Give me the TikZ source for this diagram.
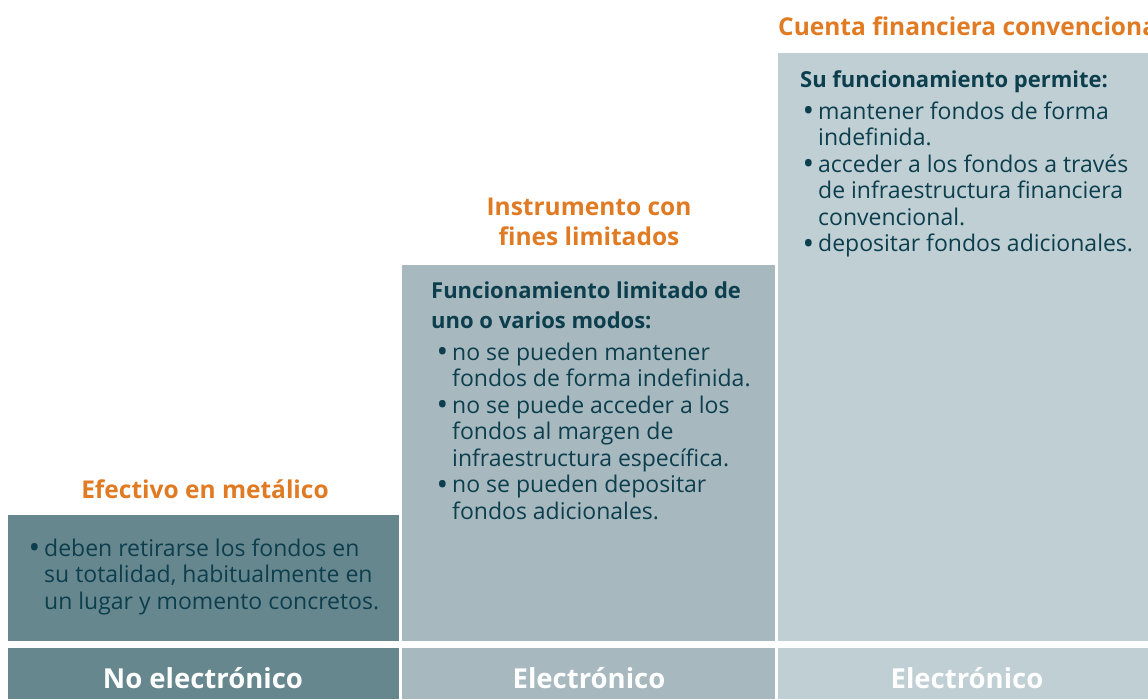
\documentclass[tikz,border=0pt]{standalone}
\usepackage{fontspec}
\setmainfont{Open Sans}
\definecolor{cone}{HTML}{67878F}
\definecolor{ctwo}{HTML}{A7B9BF}
\definecolor{cthree}{HTML}{BFCFD4}
\definecolor{corange}{HTML}{E07B24}
\definecolor{cdark}{HTML}{0C3E4E}
\newcommand{\bul}{\makebox[13pt][l]{\hspace*{-2.5pt}\raisebox{-2.5pt}{\fontsize{31}{0}\selectfont\textbullet}}}
\newcommand{\cont}{\hspace*{13pt}}
\newcommand{\hd}[1]{{\fontsize{22}{26.5}\selectfont\bfseries #1}}
\tikzset{
  title/.style={text=corange,font=\fontsize{24.5}{30}\selectfont\bfseries,inner sep=0pt},
  body/.style={text=cdark,inner sep=0pt,anchor=base west,font=\fontsize{23}{26.5}\selectfont},
  foot/.style={text=white,inner sep=0pt,anchor=base,font=\fontsize{27.5}{30}\selectfont\bfseries},
}
\begin{document}
\begin{tikzpicture}[x=1pt,y=-1pt]
\useasboundingbox (0,0) rectangle (1148,699);
\clip (0,0) rectangle (1148,699);
% panels
\fill[cone] (8,515) rectangle (399,641);
\fill[ctwo] (402,265) rectangle (775,641);
\fill[cthree] (778,53) rectangle (1148,641);
\fill[cone] (8,648) rectangle (399,699);
\fill[ctwo] (402,648) rectangle (775,699);
\fill[cthree] (778,648) rectangle (1148,699);
% titles
\node[title,anchor=base] (t1) at (205,498) {Efectivo en metálico};
\node[title,anchor=base] (t2) at (589,215) {\begin{tabular}[t]{@{}c@{}}Instrumento con\\[0pt] fines limitados\end{tabular}};
\node[title,anchor=base west] (t3) at (778,35) {Cuenta financiera convencional};
% bodies
\node[body] (b1) at (31,556) {\begin{tabular}[t]{@{}l@{}}
\bul deben retirarse los fondos en\\
\cont su totalidad, habitualmente en\\
\cont un lugar y momento concretos.
\end{tabular}};
\node[body] (b2) at (431,298) {\begin{tabular}[t]{@{}l@{}}
\hd{Funcionamiento limitado de}\\[3.5pt]
\hd{uno o varios modos:}\\[5.5pt]
\hspace*{8pt}\bul no se pueden mantener\\
\hspace*{8pt}\cont fondos de forma indefinida.\\
\hspace*{8pt}\bul no se puede acceder a los\\
\hspace*{8pt}\cont fondos al margen de\\
\hspace*{8pt}\cont infraestructura específica.\\
\hspace*{8pt}\bul no se pueden depositar\\
\hspace*{8pt}\cont fondos adicionales.
\end{tabular}};
\node[body] (b3) at (800,87) {\begin{tabular}[t]{@{}l@{}}
\hd{Su funcionamiento permite:}\\[5.5pt]
\hspace*{5pt}\bul mantener fondos de forma\\
\hspace*{5pt}\cont indefinida.\\
\hspace*{5pt}\bul acceder a los fondos a través\\
\hspace*{5pt}\cont de infraestructura financiera\\
\hspace*{5pt}\cont convencional.\\
\hspace*{5pt}\bul depositar fondos adicionales.
\end{tabular}};
% footers
\node[foot] (f1) at (203,688) {No electrónico};
\node[foot] (f2) at (589,688) {Electrónico};
\node[foot] (f3) at (967,688) {Electrónico};
\end{tikzpicture}
\end{document}
